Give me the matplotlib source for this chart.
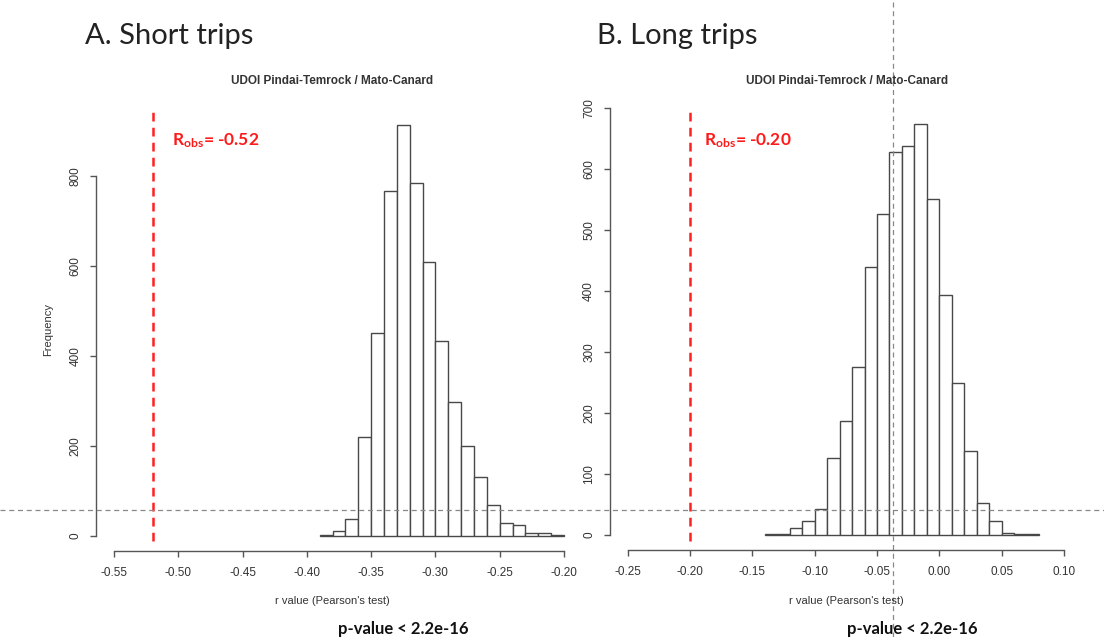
import numpy as np
import matplotlib
matplotlib.use("Agg")
import matplotlib.pyplot as plt
from matplotlib.lines import Line2D

# Données
short_bin_start = -0.39
long_bin_start = -0.14
bin_width = 0.01
short_counts = [2, 10, 38, 219, 450, 766, 913, 784, 609, 433, 298, 199, 130, 68, 29, 23, 6, 7, 1]
long_counts = [2, 2, 12, 23, 42, 126, 187, 276, 439, 527, 628, 637, 674, 551, 393, 249, 138, 52, 23, 4, 1, 1]
r_obs = [-0.52, -0.20]
panel_titles = ["A. Short trips", "B. Long trips"]
plot_title = "UDOI Pindai-Temrock / Mato-Canard"
short_xticks = [-0.55, -0.50, -0.45, -0.40, -0.35, -0.30, -0.25, -0.20]
long_xticks = [-0.25, -0.20, -0.15, -0.10, -0.05, 0.00, 0.05, 0.10]
short_yticks = [0, 200, 400, 600, 800]
long_yticks = [0, 100, 200, 300, 400, 500, 600, 700]

W, H = 1104, 637
R_FONT = "Liberation Sans"
C_FONT = ["Lato", "DejaVu Sans"]
AX_COL = "#555555"

plt.rcParams["mathtext.fontset"] = "custom"
plt.rcParams["mathtext.bf"] = "Lato:bold"
plt.rcParams["mathtext.rm"] = "Lato:bold"

fig = plt.figure(figsize=(W / 100, H / 100), dpi=100)


def fx(px):
    return px / W


def fy(py):
    return (H - py) / H


def make_panel(x0, x1, y_base, px_per_count, xlim, counts, start, xticks, yticks):
    # axes placé en pixels : x0/x1 = bornes de xlim, y_base = 0 count
    top_px = 100
    ax = fig.add_axes([fx(x0), fy(y_base), fx(x1 - x0), (y_base - top_px) / H])
    ax.set_xlim(*xlim)
    ax.set_ylim(0, (y_base - top_px) / px_per_count)
    edges = start + bin_width * np.arange(len(counts))
    ax.bar(edges, counts, width=bin_width, align="edge", facecolor="white",
           edgecolor="#484848", linewidth=1.0, clip_on=False, zorder=2)
    for s in ["top", "right"]:
        ax.spines[s].set_visible(False)
    ax.spines["left"].set_position(("outward", 13))
    ax.spines["bottom"].set_position(("outward", 11))
    ax.spines["left"].set_bounds(yticks[0], yticks[-1])
    ax.spines["bottom"].set_bounds(xticks[0], xticks[-1])
    for s in ["left", "bottom"]:
        ax.spines[s].set_color(AX_COL)
        ax.spines[s].set_linewidth(1.0)
    ax.set_xticks(xticks)
    ax.set_xticklabels([f"{t:.2f}" for t in xticks], fontfamily=R_FONT, fontsize=8.5, color="#333333")
    ax.set_yticks(yticks)
    ax.set_yticklabels([str(t) for t in yticks], fontfamily=R_FONT, fontsize=8.5,
                       rotation=90, va="center", color="#333333")
    ax.tick_params(axis="both", length=4.5, width=1.0, color=AX_COL)
    ax.tick_params(axis="x", pad=7)
    ax.tick_params(axis="y", pad=6)
    ax.set_facecolor("none")
    return ax


ax1 = make_panel(114, 564, 535.7, 0.45, (-0.55, -0.20), short_counts, short_bin_start,
                 short_xticks, short_yticks)
ax2 = make_panel(627.7, 1064, 535, 0.61, (-0.25, 0.10), long_counts, long_bin_start,
                 long_xticks, long_yticks)

# lignes rouges (R observé)
for ax, r, base, ppc in [(ax1, r_obs[0], 535.7, 0.45), (ax2, r_obs[1], 535, 0.61)]:
    ax.vlines(r, (base - 541) / ppc, (base - 107) / ppc, colors="#ff2020",
              linestyles=(0, (3.5, 2.5)), linewidth=1.8, clip_on=False, zorder=3)

# textes
fig.text(fx(85), fy(36), panel_titles[0], fontfamily=C_FONT, fontsize=21, color="#222222", va="center")
fig.text(fx(597), fy(36), panel_titles[1], fontfamily=C_FONT, fontsize=21, color="#222222", va="center")
fig.text(fx(332.5), fy(81), plot_title, fontfamily=R_FONT, fontweight="bold", fontsize=8.5,
         ha="center", va="center", color="#333333")
fig.text(fx(847), fy(81), plot_title, fontfamily=R_FONT, fontweight="bold", fontsize=8.5,
         ha="center", va="center", color="#333333")
fig.text(fx(48), fy(330), "Frequency", fontfamily=R_FONT, fontsize=8, rotation=90,
         ha="center", va="center", color="#333333")
for cx in [332.5, 846]:
    fig.text(fx(cx), fy(601), "r value (Pearson's test)", fontfamily=R_FONT, fontsize=8,
             ha="center", va="center", color="#333333")
for cx in [403, 912]:
    fig.text(fx(cx), fy(629), "p-value < 2.2e-16", fontfamily=C_FONT, fontweight="bold",
             fontsize=12, ha="center", va="center", color="#111111")
for x0, r in [(172, r_obs[0]), (704, r_obs[1])]:
    fig.text(fx(x0), fy(141), r"$\mathbf{R_{obs}}$" + f"= {r:.2f}", fontfamily=C_FONT,
             fontweight="bold", fontsize=12.5, color="#ff1a1a", va="center")

# repères gris pointillés ajoutés sur la figure
fig.add_artist(Line2D([0, 1], [fy(510), fy(510)], transform=fig.transFigure,
                      color="#888888", linewidth=0.9, linestyle=(0, (4, 3))))
fig.add_artist(Line2D([fx(892.7), fx(892.7)], [0, 1], transform=fig.transFigure,
                      color="#888888", linewidth=0.9, linestyle=(0, (4, 3))))

fig.savefig("out.png", dpi=100)
